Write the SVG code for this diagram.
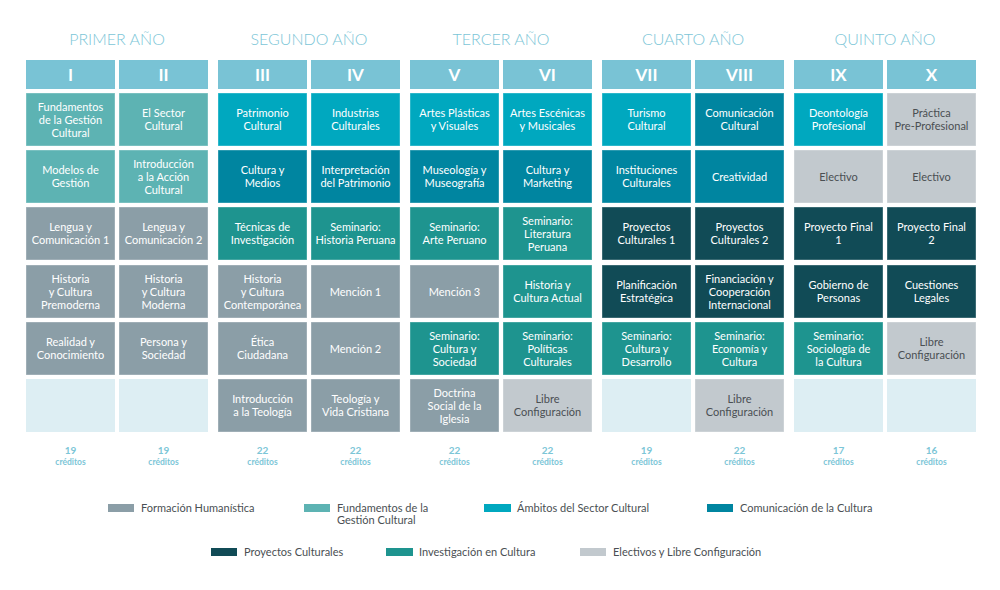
<svg xmlns="http://www.w3.org/2000/svg" width="1000" height="590" viewBox="0 0 1000 590">
<style>
text{font-family:Lato,"Liberation Sans",sans-serif}
.yr{font-size:16px;font-weight:300;fill:#7CC6D7;text-anchor:middle}
.hd{fill:#79C3D5}
.ht{font-size:17px;font-weight:700;fill:#fff;text-anchor:middle}
.c{stroke:#ffffff;stroke-opacity:0.35;stroke-width:1}
.t{font-size:11px;fill:#fff;text-anchor:middle}
.td{font-size:11px;fill:#4a4f53;text-anchor:middle}
.fh{fill:#8B9EA7}.fgc{fill:#5DB3B3}.amb{fill:#00A8BF}.com{fill:#0085A0}
.pro{fill:#114B56}.inv{fill:#1E948F}.ele{fill:#C2C9CE}.emp{fill:#DDEEF3}
.cr1{font-size:10px;font-weight:700;fill:#7CC6D7;text-anchor:middle}
.cr2{font-size:8.5px;font-weight:700;fill:#7CC6D7;text-anchor:middle}
.lg{font-size:11px;fill:#4a4f53}
</style>
<rect width="1000" height="590" fill="#fff"/>
<g id="years">
<text class="yr" x="117" y="45">PRIMER AÑO</text>
<text class="yr" x="309" y="45">SEGUNDO AÑO</text>
<text class="yr" x="501" y="45">TERCER AÑO</text>
<text class="yr" x="693" y="45">CUARTO AÑO</text>
<text class="yr" x="885" y="45">QUINTO AÑO</text>
</g>
<g id="headers">
<rect class="hd" x="26" y="60" width="89" height="29"/><text class="ht" x="70.5" y="80.5">I</text>
<rect class="hd" x="119" y="60" width="89" height="29"/><text class="ht" x="163.5" y="80.5">II</text>
<rect class="hd" x="218" y="60" width="89" height="29"/><text class="ht" x="262.5" y="80.5">III</text>
<rect class="hd" x="311" y="60" width="89" height="29"/><text class="ht" x="355.5" y="80.5">IV</text>
<rect class="hd" x="410" y="60" width="89" height="29"/><text class="ht" x="454.5" y="80.5">V</text>
<rect class="hd" x="503" y="60" width="89" height="29"/><text class="ht" x="547.5" y="80.5">VI</text>
<rect class="hd" x="602" y="60" width="89" height="29"/><text class="ht" x="646.5" y="80.5">VII</text>
<rect class="hd" x="695" y="60" width="89" height="29"/><text class="ht" x="739.5" y="80.5">VIII</text>
<rect class="hd" x="794" y="60" width="89" height="29"/><text class="ht" x="838.5" y="80.5">IX</text>
<rect class="hd" x="887" y="60" width="89" height="29"/><text class="ht" x="931.5" y="80.5">X</text>
</g>
<g id="col-I">
<g id="c1-1"><rect class="c fgc" x="26" y="93" width="89" height="53"/><text class="t" x="70.5" y="110.5">Fundamentos</text><text class="t" x="70.5" y="123.5">de la Gestión</text><text class="t" x="70.5" y="136.5">Cultural</text></g>
<g id="c1-2"><rect class="c fgc" x="26" y="150" width="89" height="53"/><text class="t" x="70.5" y="174">Modelos de</text><text class="t" x="70.5" y="187">Gestión</text></g>
<g id="c1-3"><rect class="c fh" x="26" y="207" width="89" height="53"/><text class="t" x="70.5" y="231">Lengua y</text><text class="t" x="70.5" y="244">Comunicación 1</text></g>
<g id="c1-4"><rect class="c fh" x="26" y="265" width="89" height="53"/><text class="t" x="70.5" y="282.5">Historia</text><text class="t" x="70.5" y="295.5">y Cultura</text><text class="t" x="70.5" y="308.5">Premoderna</text></g>
<g id="c1-5"><rect class="c fh" x="26" y="322" width="89" height="53"/><text class="t" x="70.5" y="346">Realidad y</text><text class="t" x="70.5" y="359">Conocimiento</text></g>
<g id="c1-6"><rect class="emp" x="26" y="379" width="89" height="53"/></g>
</g>
<g id="col-II">
<g id="c2-1"><rect class="c fgc" x="119" y="93" width="89" height="53"/><text class="t" x="163.5" y="117">El Sector</text><text class="t" x="163.5" y="130">Cultural</text></g>
<g id="c2-2"><rect class="c fgc" x="119" y="150" width="89" height="53"/><text class="t" x="163.5" y="167.5">Introducción</text><text class="t" x="163.5" y="180.5">a la Acción</text><text class="t" x="163.5" y="193.5">Cultural</text></g>
<g id="c2-3"><rect class="c fh" x="119" y="207" width="89" height="53"/><text class="t" x="163.5" y="231">Lengua y</text><text class="t" x="163.5" y="244">Comunicación 2</text></g>
<g id="c2-4"><rect class="c fh" x="119" y="265" width="89" height="53"/><text class="t" x="163.5" y="282.5">Historia</text><text class="t" x="163.5" y="295.5">y Cultura</text><text class="t" x="163.5" y="308.5">Moderna</text></g>
<g id="c2-5"><rect class="c fh" x="119" y="322" width="89" height="53"/><text class="t" x="163.5" y="346">Persona y</text><text class="t" x="163.5" y="359">Sociedad</text></g>
<g id="c2-6"><rect class="emp" x="119" y="379" width="89" height="53"/></g>
</g>
<g id="col-III">
<g id="c3-1"><rect class="c amb" x="218" y="93" width="89" height="53"/><text class="t" x="262.5" y="117">Patrimonio</text><text class="t" x="262.5" y="130">Cultural</text></g>
<g id="c3-2"><rect class="c com" x="218" y="150" width="89" height="53"/><text class="t" x="262.5" y="174">Cultura y</text><text class="t" x="262.5" y="187">Medios</text></g>
<g id="c3-3"><rect class="c inv" x="218" y="207" width="89" height="53"/><text class="t" x="262.5" y="231">Técnicas de</text><text class="t" x="262.5" y="244">Investigación</text></g>
<g id="c3-4"><rect class="c fh" x="218" y="265" width="89" height="53"/><text class="t" x="262.5" y="282.5">Historia</text><text class="t" x="262.5" y="295.5">y Cultura</text><text class="t" x="262.5" y="308.5">Contemporánea</text></g>
<g id="c3-5"><rect class="c fh" x="218" y="322" width="89" height="53"/><text class="t" x="262.5" y="346">Ética</text><text class="t" x="262.5" y="359">Ciudadana</text></g>
<g id="c3-6"><rect class="c fh" x="218" y="379" width="89" height="53"/><text class="t" x="262.5" y="403">Introducción</text><text class="t" x="262.5" y="416">a la Teología</text></g>
</g>
<g id="col-IV">
<g id="c4-1"><rect class="c amb" x="311" y="93" width="89" height="53"/><text class="t" x="355.5" y="117">Industrias</text><text class="t" x="355.5" y="130">Culturales</text></g>
<g id="c4-2"><rect class="c com" x="311" y="150" width="89" height="53"/><text class="t" x="355.5" y="174">Interpretación</text><text class="t" x="355.5" y="187">del Patrimonio</text></g>
<g id="c4-3"><rect class="c inv" x="311" y="207" width="89" height="53"/><text class="t" x="355.5" y="231">Seminario:</text><text class="t" x="355.5" y="244">Historia Peruana</text></g>
<g id="c4-4"><rect class="c fh" x="311" y="265" width="89" height="53"/><text class="t" x="355.5" y="295.5">Mención 1</text></g>
<g id="c4-5"><rect class="c fh" x="311" y="322" width="89" height="53"/><text class="t" x="355.5" y="352.5">Mención 2</text></g>
<g id="c4-6"><rect class="c fh" x="311" y="379" width="89" height="53"/><text class="t" x="355.5" y="403">Teología y</text><text class="t" x="355.5" y="416">Vida Cristiana</text></g>
</g>
<g id="col-V">
<g id="c5-1"><rect class="c amb" x="410" y="93" width="89" height="53"/><text class="t" x="454.5" y="117">Artes Plásticas</text><text class="t" x="454.5" y="130">y Visuales</text></g>
<g id="c5-2"><rect class="c com" x="410" y="150" width="89" height="53"/><text class="t" x="454.5" y="174">Museología y</text><text class="t" x="454.5" y="187">Museografía</text></g>
<g id="c5-3"><rect class="c inv" x="410" y="207" width="89" height="53"/><text class="t" x="454.5" y="231">Seminario:</text><text class="t" x="454.5" y="244">Arte Peruano</text></g>
<g id="c5-4"><rect class="c fh" x="410" y="265" width="89" height="53"/><text class="t" x="454.5" y="295.5">Mención 3</text></g>
<g id="c5-5"><rect class="c inv" x="410" y="322" width="89" height="53"/><text class="t" x="454.5" y="339.5">Seminario:</text><text class="t" x="454.5" y="352.5">Cultura y</text><text class="t" x="454.5" y="365.5">Sociedad</text></g>
<g id="c5-6"><rect class="c fh" x="410" y="379" width="89" height="53"/><text class="t" x="454.5" y="396.5">Doctrina</text><text class="t" x="454.5" y="409.5">Social de la</text><text class="t" x="454.5" y="422.5">Iglesia</text></g>
</g>
<g id="col-VI">
<g id="c6-1"><rect class="c amb" x="503" y="93" width="89" height="53"/><text class="t" x="547.5" y="117">Artes Escénicas</text><text class="t" x="547.5" y="130">y Musicales</text></g>
<g id="c6-2"><rect class="c com" x="503" y="150" width="89" height="53"/><text class="t" x="547.5" y="174">Cultura y</text><text class="t" x="547.5" y="187">Marketing</text></g>
<g id="c6-3"><rect class="c inv" x="503" y="207" width="89" height="53"/><text class="t" x="547.5" y="224.5">Seminario:</text><text class="t" x="547.5" y="237.5">Literatura</text><text class="t" x="547.5" y="250.5">Peruana</text></g>
<g id="c6-4"><rect class="c inv" x="503" y="265" width="89" height="53"/><text class="t" x="547.5" y="289">Historia y</text><text class="t" x="547.5" y="302">Cultura Actual</text></g>
<g id="c6-5"><rect class="c inv" x="503" y="322" width="89" height="53"/><text class="t" x="547.5" y="339.5">Seminario:</text><text class="t" x="547.5" y="352.5">Políticas</text><text class="t" x="547.5" y="365.5">Culturales</text></g>
<g id="c6-6"><rect class="c ele" x="503" y="379" width="89" height="53"/><text class="td" x="547.5" y="403">Libre</text><text class="td" x="547.5" y="416">Configuración</text></g>
</g>
<g id="col-VII">
<g id="c7-1"><rect class="c amb" x="602" y="93" width="89" height="53"/><text class="t" x="646.5" y="117">Turismo</text><text class="t" x="646.5" y="130">Cultural</text></g>
<g id="c7-2"><rect class="c com" x="602" y="150" width="89" height="53"/><text class="t" x="646.5" y="174">Instituciones</text><text class="t" x="646.5" y="187">Culturales</text></g>
<g id="c7-3"><rect class="c pro" x="602" y="207" width="89" height="53"/><text class="t" x="646.5" y="231">Proyectos</text><text class="t" x="646.5" y="244">Culturales 1</text></g>
<g id="c7-4"><rect class="c pro" x="602" y="265" width="89" height="53"/><text class="t" x="646.5" y="289">Planificación</text><text class="t" x="646.5" y="302">Estratégica</text></g>
<g id="c7-5"><rect class="c inv" x="602" y="322" width="89" height="53"/><text class="t" x="646.5" y="339.5">Seminario:</text><text class="t" x="646.5" y="352.5">Cultura y</text><text class="t" x="646.5" y="365.5">Desarrollo</text></g>
<g id="c7-6"><rect class="emp" x="602" y="379" width="89" height="53"/></g>
</g>
<g id="col-VIII">
<g id="c8-1"><rect class="c com" x="695" y="93" width="89" height="53"/><text class="t" x="739.5" y="117">Comunicación</text><text class="t" x="739.5" y="130">Cultural</text></g>
<g id="c8-2"><rect class="c com" x="695" y="150" width="89" height="53"/><text class="t" x="739.5" y="180.5">Creatividad</text></g>
<g id="c8-3"><rect class="c pro" x="695" y="207" width="89" height="53"/><text class="t" x="739.5" y="231">Proyectos</text><text class="t" x="739.5" y="244">Culturales 2</text></g>
<g id="c8-4"><rect class="c pro" x="695" y="265" width="89" height="53"/><text class="t" x="739.5" y="282.5">Financiación y</text><text class="t" x="739.5" y="295.5">Cooperación</text><text class="t" x="739.5" y="308.5">Internacional</text></g>
<g id="c8-5"><rect class="c inv" x="695" y="322" width="89" height="53"/><text class="t" x="739.5" y="339.5">Seminario:</text><text class="t" x="739.5" y="352.5">Economía y</text><text class="t" x="739.5" y="365.5">Cultura</text></g>
<g id="c8-6"><rect class="c ele" x="695" y="379" width="89" height="53"/><text class="td" x="739.5" y="403">Libre</text><text class="td" x="739.5" y="416">Configuración</text></g>
</g>
<g id="col-IX">
<g id="c9-1"><rect class="c amb" x="794" y="93" width="89" height="53"/><text class="t" x="838.5" y="117">Deontología</text><text class="t" x="838.5" y="130">Profesional</text></g>
<g id="c9-2"><rect class="c ele" x="794" y="150" width="89" height="53"/><text class="td" x="838.5" y="180.5">Electivo</text></g>
<g id="c9-3"><rect class="c pro" x="794" y="207" width="89" height="53"/><text class="t" x="838.5" y="231">Proyecto Final</text><text class="t" x="838.5" y="244">1</text></g>
<g id="c9-4"><rect class="c pro" x="794" y="265" width="89" height="53"/><text class="t" x="838.5" y="289">Gobierno de</text><text class="t" x="838.5" y="302">Personas</text></g>
<g id="c9-5"><rect class="c inv" x="794" y="322" width="89" height="53"/><text class="t" x="838.5" y="339.5">Seminario:</text><text class="t" x="838.5" y="352.5">Sociología de</text><text class="t" x="838.5" y="365.5">la Cultura</text></g>
<g id="c9-6"><rect class="emp" x="794" y="379" width="89" height="53"/></g>
</g>
<g id="col-X">
<g id="c10-1"><rect class="c ele" x="887" y="93" width="89" height="53"/><text class="td" x="931.5" y="117">Práctica</text><text class="td" x="931.5" y="130">Pre-Profesional</text></g>
<g id="c10-2"><rect class="c ele" x="887" y="150" width="89" height="53"/><text class="td" x="931.5" y="180.5">Electivo</text></g>
<g id="c10-3"><rect class="c pro" x="887" y="207" width="89" height="53"/><text class="t" x="931.5" y="231">Proyecto Final</text><text class="t" x="931.5" y="244">2</text></g>
<g id="c10-4"><rect class="c pro" x="887" y="265" width="89" height="53"/><text class="t" x="931.5" y="289">Cuestiones</text><text class="t" x="931.5" y="302">Legales</text></g>
<g id="c10-5"><rect class="c ele" x="887" y="322" width="89" height="53"/><text class="td" x="931.5" y="346">Libre</text><text class="td" x="931.5" y="359">Configuración</text></g>
<g id="c10-6"><rect class="emp" x="887" y="379" width="89" height="53"/></g>
</g>
<g id="credits">
<text class="cr1" x="70.5" y="453.5">19</text><text class="cr2" x="70.5" y="465">créditos</text>
<text class="cr1" x="163.5" y="453.5">19</text><text class="cr2" x="163.5" y="465">créditos</text>
<text class="cr1" x="262.5" y="453.5">22</text><text class="cr2" x="262.5" y="465">créditos</text>
<text class="cr1" x="355.5" y="453.5">22</text><text class="cr2" x="355.5" y="465">créditos</text>
<text class="cr1" x="454.5" y="453.5">22</text><text class="cr2" x="454.5" y="465">créditos</text>
<text class="cr1" x="547.5" y="453.5">22</text><text class="cr2" x="547.5" y="465">créditos</text>
<text class="cr1" x="646.5" y="453.5">19</text><text class="cr2" x="646.5" y="465">créditos</text>
<text class="cr1" x="739.5" y="453.5">22</text><text class="cr2" x="739.5" y="465">créditos</text>
<text class="cr1" x="838.5" y="453.5">17</text><text class="cr2" x="838.5" y="465">créditos</text>
<text class="cr1" x="931.5" y="453.5">16</text><text class="cr2" x="931.5" y="465">créditos</text>
</g>
<g id="legend">
<rect class="fh" x="108" y="504" width="26" height="8"/><text class="lg" x="141" y="512">Formación Humanística</text>
<rect class="fgc" x="304" y="504" width="26" height="8"/><text class="lg" x="337" y="512">Fundamentos de la</text><text class="lg" x="337" y="524">Gestión Cultural</text>
<rect class="amb" x="484" y="504" width="27" height="8"/><text class="lg" x="517" y="512">Ámbitos del Sector Cultural</text>
<rect class="com" x="707" y="504" width="26" height="8"/><text class="lg" x="740" y="512">Comunicación de la Cultura</text>
<rect class="pro" x="211" y="548" width="26" height="8"/><text class="lg" x="244" y="556">Proyectos Culturales</text>
<rect class="inv" x="386" y="548" width="27" height="8"/><text class="lg" x="419" y="556">Investigación en Cultura</text>
<rect class="ele" x="580" y="548" width="26" height="8"/><text class="lg" x="613" y="556">Electivos y Libre Configuración</text>
</g>
</svg>
